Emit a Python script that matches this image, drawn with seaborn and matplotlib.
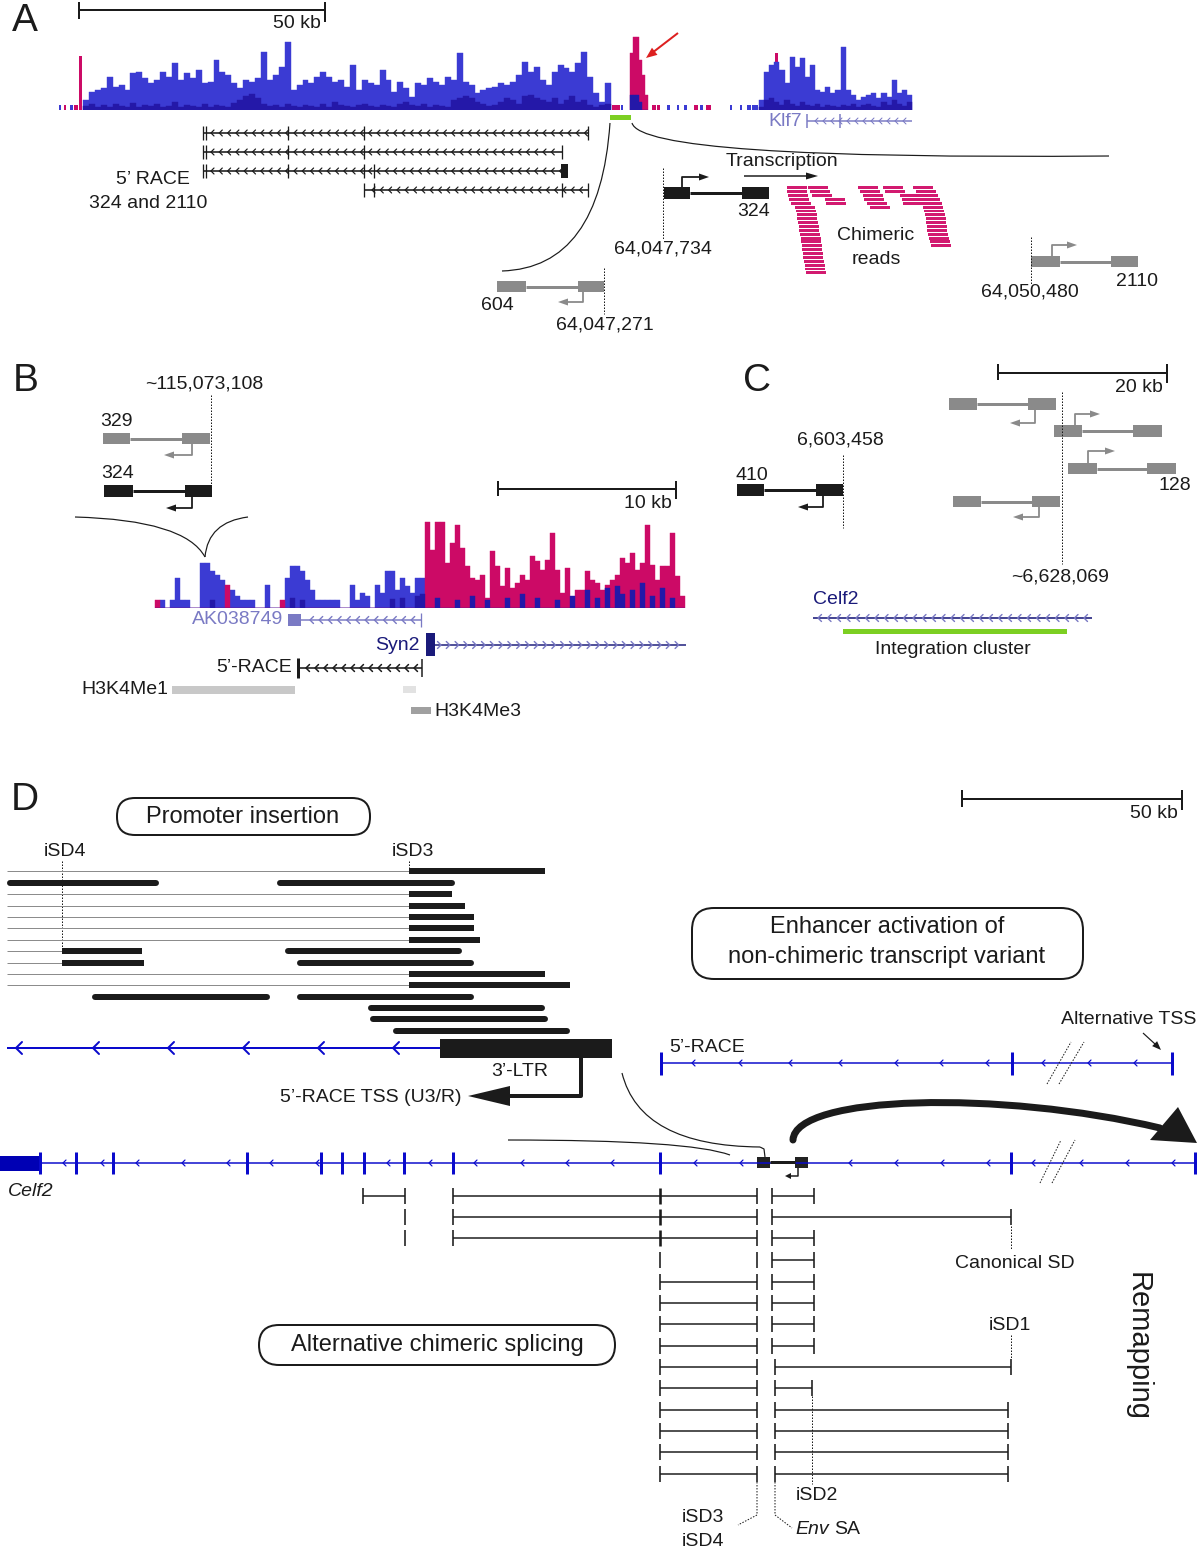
import numpy as np
import pandas as pd
import matplotlib
matplotlib.use("Agg")
import matplotlib.pyplot as plt
from matplotlib.patches import Rectangle, FancyBboxPatch, Polygon, PathPatch
from matplotlib.path import Path
import seaborn as sns

sns.set_theme(style="white")
plt.rcParams['font.family'] = ['Liberation Sans', 'DejaVu Sans']

W, H = 1200, 1550
PX = 0.72   # points per pixel at dpi 100

BLUE = "#3b3bd3"
DARK = "#2418a8"
MAG = "#cc0a66"
READ = "#d21a70"
GENE = "#0a0acc"
NAVY = "#1a1a7a"
LILAC = "#7a7ac4"
GREY = "#8a8a8a"
GREEN = "#7ccf22"
INK = "#1b1b1b"

# ---------------- panel A data ----------------
a_cov_span = (83, 611)
a_cov = [10, 18, 20, 22, 33, 23, 25, 20, 37, 38, 32, 27, 30, 38, 33, 47, 30, 37, 32, 40,
         27, 28, 50, 38, 35, 27, 22, 30, 28, 32, 58, 30, 35, 43, 68, 20, 25, 30, 27, 33,
         38, 33, 28, 30, 23, 45, 20, 30, 27, 25, 40, 30, 18, 28, 22, 13, 27, 25, 32, 28,
         25, 33, 30, 57, 28, 25, 17, 20, 22, 23, 27, 25, 28, 35, 48, 38, 43, 30, 25, 38,
         45, 42, 38, 47, 58, 33, 17, 8, 27]
a_cov_dark = [4, 6, 3, 5, 3, 6, 4, 3, 7, 3, 5, 4, 6, 3, 4, 8, 3, 5, 4, 3,
              6, 3, 5, 4, 3, 7, 10, 14, 16, 12, 6, 4, 5, 3, 6, 4, 3, 5, 4, 3,
              6, 3, 8, 5, 4, 3, 5, 6, 4, 3, 5, 4, 3, 6, 8, 5, 4, 6, 3, 5,
              4, 3, 10, 12, 14, 12, 8, 6, 4, 5, 8, 12, 10, 6, 14, 15, 12, 10, 8, 12,
              6, 10, 14, 8, 10, 5, 3, 5, 6]
a_klf7_span = (759, 912)
a_klf7_cov = [10, 38, 45, 48, 40, 27, 53, 43, 52, 33, 45, 20, 18, 23, 17, 20, 63, 20, 15, 10,
              13, 15, 17, 12, 17, 13, 30, 17, 20, 15]
a_klf7_dark = [3, 10, 12, 8, 5, 10, 6, 4, 8, 5, 4, 6, 3, 5, 4, 3, 5, 4, 6, 3,
               5, 6, 4, 3, 8, 5, 10, 6, 4, 8]
a_peak_span = (630, 648)
a_peak_mag = [57, 73, 73, 50, 35, 15]
a_peak_blue = [15, 15, 15, 8, 0, 0]
a_spike_x = [79, 775]
a_spike_h = [54, 57]
a_mark_x = [59, 64, 70, 74, 612, 621, 652, 657, 667, 677, 684, 694, 700, 706, 730, 740, 747, 752]
a_mark_w = [2, 2, 3, 4, 8, 2, 4, 3, 3, 2, 3, 4, 3, 5, 2, 2, 4, 6]
a_mark_c = ['b', 'm', 'b', 'm', 'm', 'b', 'm', 'm', 'b', 'b', 'b', 'm', 'b', 'm', 'b', 'b', 'b', 'b']

a_race_y = [133, 152, 171, 190]
a_race_span = [(203, 588), (203, 562), (203, 564), (364, 588)]
a_race_ticks = [[203, 206, 288, 364, 588], [203, 206, 288, 364, 562],
                [203, 206, 288, 364, 374], [364, 374, 562, 588]]

# chimeric reads: start x and stacked row number
reads_x = [786.7, 787.3, 788.3, 789.0, 790.7, 795.0, 796.0, 796.7, 797.3, 798.3, 799.0, 799.3,
           800.0, 800.7, 801.3, 801.7, 802.3, 802.7, 803.3, 804.0, 804.7, 805.0, 805.7,
           808.3, 810.0, 811.7, 825.0, 826.0,
           858.3, 860.0, 862.7, 864.3, 866.7, 870.0,
           883.3, 885.0, 900.0, 901.7, 903.3,
           913.3, 915.7, 918.3, 920.0, 921.7, 923.3, 924.0, 925.0, 925.7, 926.0, 926.7,
           927.3, 928.3, 929.0, 930.0, 931.0]
reads_row = list(range(23)) + list(range(5)) + list(range(6)) + list(range(5)) + list(range(16))
read_len = 20

# ---------------- panel B data ----------------
b_cov_span = (155, 685)
b_cov = [8, 8, 0, 8, 30, 8, 8, 0, 0, 45,
         45, 37, 33, 28, 23, 18, 12, 8, 8, 8,
         0, 0, 23, 0, 0, 8, 30, 42, 42, 37,
         28, 18, 8, 8, 8, 8, 8, 0, 0, 23,
         8, 15, 12, 0, 23, 15, 37, 37, 18, 30,
         22, 15, 30, 30, 86, 58, 86, 86, 45, 65,
         83, 60, 42, 30, 28, 33, 10, 57, 42, 22,
         40, 20, 25, 33, 28, 52, 47, 38, 48, 75,
         38, 15, 40, 8, 18, 18, 37, 28, 25, 18,
         23, 28, 33, 50, 45, 55, 38, 45, 83, 43,
         28, 42, 42, 75, 32, 12]
b_mag_from = 54
b_mag_idx = [0, 14, 25]
b_dark_idx = [11, 27, 29, 47, 49, 52, 53, 56, 60, 63, 66, 70, 73, 76, 80, 83, 86, 88, 90, 92,
              93, 95, 97, 99, 101, 103]
b_dark_h = [8, 10, 8, 9, 10, 12, 14, 10, 8, 12, 8, 10, 14, 10, 8, 12, 18, 10, 20, 22,
            14, 18, 25, 12, 20, 10]

# retroviral insert sketches: exon1, exon2, top, bottom, promoter x, arrow y, arrow tip x, colour
constructs = [
    ((664, 690), (742, 769), 187, 199, 682, 177, 709, INK),      # A 324
    ((497, 526), (578, 604), 281, 292, 583, 302, 558, GREY),     # A 604
    ((1031, 1060), (1111, 1138), 256, 267, 1052, 245, 1077, GREY),  # A 2110
    ((103, 130), (182, 210), 433, 444, 192, 455, 164, GREY),     # B 329
    ((104, 133), (185, 212), 485, 497, 192, 508, 166, INK),      # B 324
    ((737, 764), (816, 843), 484, 496, 823, 507, 798, INK),      # C 410
    ((949, 977), (1028, 1056), 398, 410, 1035, 423, 1010, GREY),
    ((1054, 1082), (1133, 1162), 425, 437, 1075, 414, 1100, GREY),
    ((1068, 1097), (1147, 1176), 463, 474, 1088, 451, 1115, GREY),
    ((953, 981), (1032, 1060), 496, 507, 1039, 517, 1013, GREY),
]

# ---------------- panel D data ----------------
d_up_y = [871, 883, 894, 906, 917, 928, 940, 951, 963, 974, 985, 997, 1008, 1019, 1031]
d_up_thin = [409, None, 409, 409, 409, 409, 409, 62, 62, 409, 409, None, None, None, None]
d_up_thick = [[(409, 545)], [(7, 159), (277, 455)], [(409, 452)], [(409, 465)], [(409, 474)],
              [(409, 474)], [(409, 480)], [(62, 142), (285, 462)], [(62, 144), (297, 474)],
              [(409, 545)], [(409, 570)], [(92, 270), (297, 474)], [(368, 545)],
              [(370, 548)], [(393, 570)]]

d_lo_y = [1196, 1217, 1238, 1260, 1282, 1303, 1324, 1346, 1367, 1388, 1410, 1431, 1452, 1474]
d_lo_left = [[(363, 405), (453, 757)], [(453, 757)], [(453, 757)], [],
             [(660, 757)], [(660, 757)], [(660, 757)], [(660, 757)], [(660, 757)],
             [(660, 757)], [(660, 757)], [(660, 757)], [(660, 757)], [(660, 757)]]
d_lo_right = [(772, 814), (772, 1011), (772, 814), (772, 814), (772, 814), (772, 814),
              (772, 814), (772, 814), (775, 1011), (775, 812), (775, 1008), (775, 1008),
              (775, 1008), (775, 1008)]
d_lo_ticks = [[363, 405, 453, 660, 757, 772, 814], [405, 453, 660, 757, 772, 1011],
              [405, 453, 660, 757, 772, 814], [660, 757, 772, 814], [660, 757, 772, 814],
              [660, 757, 772, 814], [660, 757, 772, 814], [660, 757, 772, 814],
              [660, 757, 775, 1011], [660, 757, 775, 812], [660, 757, 775, 1008],
              [660, 757, 775, 1008], [660, 757, 775, 1008], [660, 757, 775, 1008]]

d_celf2_exons = [40, 76, 113, 247, 321, 342, 364, 404, 453, 660, 1011, 1195]
d_celf2_chev = [63, 101, 136, 182, 227, 270, 316, 387, 429, 474, 521, 566, 611, 694, 740,
                849, 895, 941, 987, 1032, 1080, 1126, 1172]
d_ltr_chev = [16, 93, 168, 243, 318, 393]
d_race_chev = [692, 739, 789, 839, 895, 940, 986, 1042, 1088, 1134]
d_race_exons = [661, 1012, 1172]

fig = plt.figure(figsize=(W / 100, H / 100), dpi=100)
ax = fig.add_axes([0, 0, 1, 1])
ax.set_xlim(0, W)
ax.set_ylim(H, 0)
ax.axis('off')


def line(xs, ys, color=INK, lw=1.0, **kw):
    ax.plot(xs, ys, color=color, lw=lw * PX, solid_capstyle='butt', **kw)


def dotted(xs, ys, color=INK):
    ax.plot(xs, ys, color=color, lw=1.0 * PX, ls=(0, (1.5, 1.5)))


def rect(x0, y0, x1, y1, color):
    ax.add_patch(Rectangle((x0, y0), x1 - x0, y1 - y0, color=color, lw=0))


def tri(tip, direction, length, width, color):
    x, y = tip
    dx, dy = direction
    n = np.hypot(dx, dy)
    dx, dy = dx / n, dy / n
    bx, by = x - dx * length, y - dy * length
    px, py = -dy * width / 2, dx * width / 2
    ax.add_patch(Polygon([(x, y), (bx + px, by + py), (bx - px, by - py)],
                         closed=True, color=color, lw=0))


def chevrons(xs, y, color, size=3.0, lw=1.0, left=True):
    d = 1 if left else -1
    for x in xs:
        ax.plot([x + d * size, x, x + d * size], [y - size, y, y + size],
                color=color, lw=lw * PX)


def label(x, y, s, size=14, ha='center', color=INK, **kw):
    ax.text(x, y, s, fontsize=size, ha=ha, va='center', color=color, **kw)


def scale_bar(x0, x1, y, lo, hi, txt):
    line([x0, x1], [y, y], lw=2)
    line([x0, x0], [lo, hi - 3], lw=2)
    line([x1, x1], [lo, hi], lw=2)
    label(x1 - 4, y + 14, txt, ha='right')


def curve(p0, c, p1, lw=1.2):
    path = Path([p0, c, p1], [Path.MOVETO, Path.CURVE3, Path.CURVE3])
    ax.add_patch(PathPatch(path, fill=False, color=INK, lw=lw * PX))


def cover_axes(x0, x1, base, hmax):
    return fig.add_axes([x0 / W, 1 - base / H, (x1 - x0) / W, hmax / H])


def hist_layer(cax, span, heights, color):
    n = len(heights)
    step = (span[1] - span[0]) / n
    df = pd.DataFrame({"pos": span[0] + step * (np.arange(n) + 0.5),
                       "depth": np.asarray(heights, dtype=float)})
    sns.histplot(data=df, x="pos", weights="depth", bins=n, binrange=span,
                 color=color, alpha=1, edgecolor=color, linewidth=0.3, ax=cax)


def finish_cover(cax, x0, x1, hmax):
    cax.set_xlim(x0, x1)
    cax.set_ylim(0, hmax)
    cax.axis('off')


# ================= Panel A =================
label(25, 21, "A", size=28)
scale_bar(79, 325, 10, 2, 22, "50 kb")

cax = cover_axes(50, 920, 110, 80)
cax.bar(a_spike_x, a_spike_h, width=3, color=MAG, align='edge', lw=0)
for x, w, c in zip(a_mark_x, a_mark_w, a_mark_c):
    cax.bar(x, 5, width=w, color=MAG if c == 'm' else BLUE, align='edge', lw=0)
hist_layer(cax, a_cov_span, a_cov, BLUE)
hist_layer(cax, a_cov_span, a_cov_dark, DARK)
hist_layer(cax, a_peak_span, a_peak_mag, MAG)
hist_layer(cax, a_peak_span, a_peak_blue, DARK)
hist_layer(cax, a_klf7_span, a_klf7_cov, BLUE)
hist_layer(cax, a_klf7_span, a_klf7_dark, DARK)
finish_cover(cax, 50, 920, 80)

# red arrow pointing to the integration peak
line([678, 652], [33, 53], color="#dd2020", lw=2)
tri((646, 58), (-26, 20), 11, 9, "#dd2020")

# integration site bar and Klf7 gene
rect(610, 115, 631, 120, GREEN)
label(768, 121, "Klf7", ha='left', color=LILAC)
line([807, 912], [121, 121], color=LILAC, lw=1.5)
line([807, 807], [114, 128], color=LILAC, lw=1.5)
line([840, 840], [114, 128], color=LILAC, lw=1.5)
chevrons(np.arange(815, 910, 8), 121, LILAC, size=3)

# 5' RACE transcripts
for y, (x0, x1), ticks in zip(a_race_y, a_race_span, a_race_ticks):
    line([x0, x1], [y, y], lw=1.6)
    for t in ticks:
        line([t, t], [y - 7, y + 7], lw=1.3)
    chevrons(np.arange(x0 + 8, x1 - 3, 8.3), y, INK, size=3, lw=1.2)
rect(561, 164, 568, 178, INK)
label(190, 179, "5\u2019 RACE", ha='right')
label(148, 203, "324 and 2110")

# zoom curves
curve((610, 123), (600, 268), (502, 271))
curve((632, 123), (642, 160), (1109, 156))

label(782, 161, "Transcription")
line([744, 806], [176, 176], lw=1.5)
tri((818, 176), (1, 0), 12, 7, INK)

# chimeric reads
for x, r in zip(reads_x, reads_row):
    rect(x, 186.3 + 3.87 * r, x + read_len, 186.3 + 3.87 * r + 2.9, READ)
label(876, 236, "Chimeric")
label(876, 260, "reads")

# ================= Panel B / C constructs =================
for (e1, e2, top, bot, px, ay, tipx, col) in constructs:
    mid = (top + bot) / 2
    line([e1[1], e2[0]], [mid, mid], color=col, lw=3)
    rect(e1[0], top, e1[1], bot, col)
    rect(e2[0], top, e2[1], bot, col)
    y0 = bot if ay > bot else top
    s = np.sign(tipx - px)
    line([px, px, tipx - s * 8], [y0, ay, ay], color=col, lw=1.8)
    tri((tipx, ay), (s, 0), 10, 7, col)

dotted([663, 663], [168, 240])
label(663, 249, "64,047,734")
label(754, 211, "324")
dotted([604, 604], [268, 314])
label(497, 305, "604")
label(605, 325, "64,047,271")
dotted([1031, 1031], [237, 285])
label(1030, 292, "64,050,480")
label(1137, 281, "2110")

# ================= Panel B =================
label(26, 381, "B", size=28)
label(204, 384, "~115,073,108")
dotted([211, 211], [395, 490])
label(116, 421, "329")
label(118, 474, "324")
scale_bar(498, 676, 489, 481, 499, "10 kb")
curve((75, 517), (185, 520), (205, 557))
curve((248, 517), (208, 522), (205, 557))

cax = cover_axes(150, 690, 608, 90)
b_cov_arr = np.array(b_cov, dtype=float)
mag_mask = np.zeros(len(b_cov), dtype=bool)
mag_mask[b_mag_from:] = True
mag_mask[b_mag_idx] = True
hist_layer(cax, b_cov_span, np.where(mag_mask, 0, b_cov_arr), BLUE)
hist_layer(cax, b_cov_span, np.where(mag_mask, b_cov_arr, 0), MAG)
b_dark = np.zeros(len(b_cov))
b_dark[b_dark_idx] = b_dark_h
hist_layer(cax, b_cov_span, b_dark, DARK)
finish_cover(cax, 150, 690, 90)

label(283, 620, "AK038749", ha='right', color=LILAC)
rect(288, 614, 301, 626, LILAC)
line([301, 421], [620, 620], color=LILAC, lw=1.5)
line([421, 421], [613, 627], color=LILAC, lw=1.3)
chevrons(np.arange(310, 418, 9.2), 620, LILAC, size=3.5, lw=1.4)

label(420, 645, "Syn2", ha='right', color=NAVY)
rect(426, 633, 435, 656, NAVY)
line([435, 686], [645, 645], color=NAVY, lw=1.5)
chevrons(np.arange(441, 684, 8.8), 645, LILAC, size=3.5, lw=1.4, left=False)

label(292, 668, "5\u2019-RACE", ha='right')
line([298, 422], [668, 668], lw=1.6)
line([298, 298], [658, 678], lw=3)
line([422, 422], [659, 677], lw=1.5)
chevrons(np.arange(306, 419, 9), 668, INK, size=3.5, lw=1.5)

label(168, 690, "H3K4Me1", ha='right')
rect(172, 686, 295, 694, "#c8c8c8")
rect(403, 686, 416, 693, "#e2e2e2")
rect(411, 707, 431, 714, "#a0a0a0")
label(434, 711, "H3K4Me3", ha='left')

# ================= Panel C =================
label(757, 381, "C", size=28)
scale_bar(998, 1167, 373, 364, 383, "20 kb")
dotted([1062, 1062], [392, 564])
label(1060, 577, "~6,628,069")
label(1175, 486, "128")
label(752, 475, "410")
label(840, 440, "6,603,458")
dotted([843, 843], [455, 528])

label(813, 600, "Celf2", ha='left', color=NAVY)
line([813, 1092], [618, 618], color=NAVY, lw=1.6)
chevrons(np.arange(818, 1090, 9.5), 618, LILAC, size=3.5, lw=1.4)
rect(843, 629, 1067, 634, GREEN)
label(953, 650, "Integration cluster")

# ================= Panel D =================
label(25, 800, "D", size=28)
scale_bar(962, 1182, 799, 790, 810, "50 kb")

box_kw = dict(fill=False, ec=INK, lw=2 * PX)
ax.add_patch(FancyBboxPatch((117, 798), 253, 37, boxstyle="round,pad=0,rounding_size=18", **box_kw))
label(243, 817, "Promoter insertion", size=17)
ax.add_patch(FancyBboxPatch((692, 908), 391, 71, boxstyle="round,pad=0,rounding_size=22", **box_kw))
label(887, 927, "Enhancer activation of", size=17)
label(887, 957, "non-chimeric transcript variant", size=17)
ax.add_patch(FancyBboxPatch((259, 1325), 356, 40, boxstyle="round,pad=0,rounding_size=20", **box_kw))
label(437, 1345, "Alternative chimeric splicing", size=17)

# promoter-insertion reads
label(65, 852, "iSD4")
label(413, 852, "iSD3")
dotted([62, 62], [861, 951])
dotted([409, 409], [861, 870])
for y, thin, segs in zip(d_up_y, d_up_thin, d_up_thick):
    if thin is not None:
        line([7, thin], [y, y], color="#8c8c8c", lw=1)
    for x0, x1 in segs:
        if x0 in (62, 409):
            line([x0, x1], [y, y], lw=6)
        else:
            ax.plot([x0 + 3, x1 - 3], [y, y], color=INK, lw=6 * PX, solid_capstyle='round')

# Celf2 exon with LTR insertion
line([7, 440], [1048, 1048], color=GENE, lw=2)
chevrons(d_ltr_chev, 1048, GENE, size=6, lw=2)
rect(440, 1039, 612, 1058, INK)
label(520, 1071, "3\u2019-LTR")
line([581, 581, 505], [1058, 1096, 1096], lw=4)
tri((468, 1096), (-1, 0), 42, 20, INK)
label(461, 1097, "5\u2019-RACE TSS (U3/R)", ha='right')

# enhancer-driven 5'-RACE transcript
label(669, 1047, "5\u2019-RACE", ha='left')
line([661, 1172], [1063, 1063], color=GENE, lw=1.5)
for x in d_race_exons:
    line([x, x], [1052, 1075], color=GENE, lw=3)
chevrons(d_race_chev, 1063, GENE, size=3, lw=1.2)
dotted([1047, 1071], [1084, 1042])
dotted([1059, 1084], [1084, 1042])
label(1129, 1019, "Alternative TSS")
line([1143, 1155], [1033, 1044], lw=1.2)
tri((1161, 1050), (1, 1), 9, 7, INK)

# connectors between panels
curve((622, 1073), (640, 1146), (760, 1147))
line([760, 764, 765], [1147, 1149, 1157], lw=1.2)
curve((508, 1140), (690, 1140), (730, 1155))

# remapping arrow
path = Path([(793, 1140), (795, 1095), (1000, 1090), (1160, 1128)],
            [Path.MOVETO, Path.CURVE4, Path.CURVE4, Path.CURVE4])
ax.add_patch(PathPatch(path, fill=False, color=INK, lw=7 * PX, capstyle='round'))
ax.add_patch(Polygon([(1150, 1140), (1178, 1107), (1197, 1143)], closed=True, color=INK, lw=0))

# main Celf2 transcript
rect(0, 1156, 40, 1171, "#0000b4")
line([40, 1195], [1163, 1163], color=GENE, lw=1.5)
for x in d_celf2_exons:
    line([x, x], [1152, 1174], color=GENE, lw=3)
chevrons(d_celf2_chev, 1163, GENE, size=3, lw=1.2)
dotted([1040, 1061], [1183, 1140])
dotted([1052, 1075], [1183, 1140])
ax.text(8, 1192, "Celf2", fontsize=14, ha='left', va='center', style='italic', color=INK)

# provirus on the Celf2 locus
line([770, 795], [1162, 1162], lw=3)
rect(757, 1157, 770, 1168, "#222222")
rect(795, 1157, 808, 1168, "#222222")
line([798, 798, 790], [1168, 1176, 1176], lw=1.5)
tri((785, 1176), (-1, 0), 6, 6, INK)

# chimeric splice junctions
for y, lsegs, rseg, ticks in zip(d_lo_y, d_lo_left, d_lo_right, d_lo_ticks):
    for x0, x1 in lsegs:
        line([x0, x1], [y, y], lw=1.5)
    line([rseg[0], rseg[1]], [y, y], lw=1.5)
    for t in ticks:
        wide = 2.6 if (t == 660 and y < 1250) else 1.6
        line([t, t], [y - 8, y + 8], lw=wide)

dotted([1011, 1011], [1226, 1250])
label(1015, 1263, "Canonical SD")
label(1010, 1326, "iSD1")
dotted([1011, 1011], [1335, 1359])
dotted([812, 812], [1396, 1484])
label(817, 1496, "iSD2")
dotted([757, 757, 738], [1482, 1515, 1525])
dotted([775, 775, 792], [1482, 1515, 1528])
label(703, 1518, "iSD3")
label(703, 1542, "iSD4")
ax.text(795, 1530, "Env", fontsize=14, ha='left', va='center', style='italic', color=INK)
label(834, 1530, "SA", ha='left')

ax.text(1138, 1346, "Remapping", fontsize=21, rotation=270, ha='center', va='center', color=INK)

fig.savefig("out.png", dpi=100, facecolor="white")
